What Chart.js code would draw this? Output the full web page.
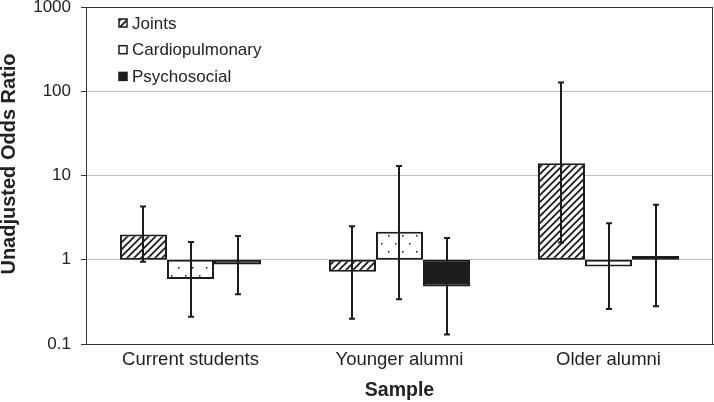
<!DOCTYPE html>
<html>
<head>
<meta charset="utf-8">
<script src="https://cdn.jsdelivr.net/npm/chart.js@4.4.1/dist/chart.umd.min.js"></script>
<style>
  html, body { margin: 0; padding: 0; background: #fff; }
  #wrap { width: 714px; height: 402px; }
</style>
</head>
<body>
<div id="wrap"><canvas id="chart" width="714" height="402"></canvas></div>
<script>
const categories = ['Current students', 'Younger alumni', 'Older alumni'];
const seriesNames = ['Joints', 'Cardiopulmonary', 'Psychosocial'];

// odds ratios and 95% CI (lower / upper)
const jointsOR = [2.0, 0.72, 14.0];
const jointsLo = [0.95, 0.20, 1.6];
const jointsHi = [4.3, 2.5, 127];

const cardioOR = [0.59, 2.15, 0.83];
const cardioLo = [0.21, 0.34, 0.26];
const cardioHi = [1.62, 13.0, 2.72];

const psychoOR = [0.88, 0.48, 1.11];
const psychoLo = [0.39, 0.13, 0.28];
const psychoHi = [1.91, 1.81, 4.49];

const yTicks = [0.1, 1, 10, 100, 1000];
const baseline = 1;
const yTitle = 'Unadjusted Odds Ratio';

const ink = '#1c1c1c';
const font = '"Liberation Sans", Arial, sans-serif';

function hatchPattern() {
  const s = 7;
  const c = document.createElement('canvas');
  c.width = s; c.height = s;
  const g = c.getContext('2d');
  g.fillStyle = '#fff';
  g.fillRect(0, 0, s, s);
  g.strokeStyle = ink;
  g.lineWidth = 1.8;
  g.beginPath();
  g.moveTo(0, s); g.lineTo(s, 0);
  g.moveTo(-1, 1); g.lineTo(1, -1);
  g.moveTo(s - 1, s + 1); g.lineTo(s + 1, s - 1);
  g.stroke();
  return g.createPattern(c, 'repeat');
}

function dotPattern() {
  const c = document.createElement('canvas');
  c.width = 14; c.height = 16;
  const g = c.getContext('2d');
  g.fillStyle = '#fff';
  g.fillRect(0, 0, 14, 16);
  g.fillStyle = ink;
  g.fillRect(3, 3, 1.5, 1.5);
  g.fillRect(10, 11, 1.5, 1.5);
  return g.createPattern(c, 'repeat');
}

const ctx = document.getElementById('chart').getContext('2d');
const fills = [hatchPattern(), dotPattern(), ink];

function floating(vals) {
  return vals.map(v => [baseline, v]);
}

const errors = [
  { lo: jointsLo, hi: jointsHi },
  { lo: cardioLo, hi: cardioHi },
  { lo: psychoLo, hi: psychoHi }
];

// error bars drawn over the bars
const errorBars = {
  id: 'errorBars',
  afterDatasetsDraw(chart) {
    const y = chart.scales.y;
    const c = chart.ctx;
    c.save();
    c.strokeStyle = ink;
    c.lineWidth = 2;
    chart.data.datasets.forEach((ds, i) => {
      const meta = chart.getDatasetMeta(i);
      meta.data.forEach((bar, j) => {
        const x = Math.round(bar.x);
        const top = y.getPixelForValue(errors[i].hi[j]);
        const bot = y.getPixelForValue(errors[i].lo[j]);
        c.beginPath();
        c.moveTo(x, top); c.lineTo(x, bot);
        c.moveTo(x - 3, top); c.lineTo(x + 3, top);
        c.moveTo(x - 3, bot); c.lineTo(x + 3, bot);
        c.stroke();
      });
    });
    c.restore();
  }
};

// box round the plot, legend inside it, y title
const frameAndLegend = {
  id: 'frameAndLegend',
  afterDraw(chart) {
    const a = chart.chartArea;
    const c = chart.ctx;
    c.save();
    c.strokeStyle = '#333';
    c.lineWidth = 1;
    c.strokeRect(a.left + 0.5, a.top + 0.5, a.right - a.left - 1, a.bottom - a.top);

    c.font = '17px ' + font;
    c.textBaseline = 'middle';
    chart.data.datasets.forEach((ds, i) => {
      const cy = a.top + 16 + i * 26.7;
      const bx = a.left + 33;
      c.fillStyle = ds.backgroundColor;
      c.fillRect(bx, cy - 4, 8, 8);
      c.strokeStyle = ink;
      c.lineWidth = 1.5;
      c.strokeRect(bx, cy - 4, 8, 8);
      c.fillStyle = '#222';
      c.fillText(ds.label, bx + 13, cy + 1);
    });

    c.translate(9, 164);
    c.rotate(-Math.PI / 2);
    c.font = 'bold 20px ' + font;
    c.textAlign = 'center';
    c.fillStyle = '#222';
    c.fillText(yTitle, 0, 0);
    c.restore();
  }
};

new Chart(ctx, {
  type: 'bar',
  data: {
    labels: categories,
    datasets: [
      { label: seriesNames[0], data: floating(jointsOR), backgroundColor: fills[0] },
      { label: seriesNames[1], data: floating(cardioOR), backgroundColor: fills[1] },
      { label: seriesNames[2], data: floating(psychoOR), backgroundColor: fills[2] }
    ]
  },
  options: {
    responsive: false,
    animation: false,
    layout: { padding: { top: 7, right: 1, left: 0, bottom: 0 } },
    datasets: {
      bar: {
        borderColor: ink,
        borderWidth: 2,
        borderSkipped: false,
        categoryPercentage: 0.675,
        barPercentage: 1
      }
    },
    scales: {
      x: {
        grid: { display: false, drawTicks: false },
        border: { display: true, color: '#333', width: 1 },
        ticks: {
          color: '#222',
          padding: 5,
          font: { family: font, size: 18.5 }
        },
        title: {
          display: true,
          text: 'Sample',
          color: '#222',
          padding: { top: 4, bottom: 0 },
          font: { family: font, size: 19.5, weight: 'bold' }
        },
        afterFit(scale) { scale.height = 58; }
      },
      y: {
        type: 'logarithmic',
        min: 0.1,
        max: 1000,
        afterBuildTicks(scale) {
          scale.ticks = yTicks.map(v => ({ value: v }));
        },
        grid: {
          color: '#bdbdbd',
          lineWidth: 1,
          tickColor: '#333',
          tickLength: 5
        },
        border: { display: true, color: '#333', width: 1 },
        ticks: {
          color: '#222',
          padding: 10,
          font: { family: font, size: 17 },
          callback: v => String(v)
        },
        afterFit(scale) {
          scale.width = 86;
          scale.paddingTop = 0;
          scale.paddingBottom = 0;
        }
      }
    },
    plugins: {
      legend: { display: false },
      tooltip: { enabled: false }
    }
  },
  plugins: [errorBars, frameAndLegend]
});
</script>
</body>
</html>
